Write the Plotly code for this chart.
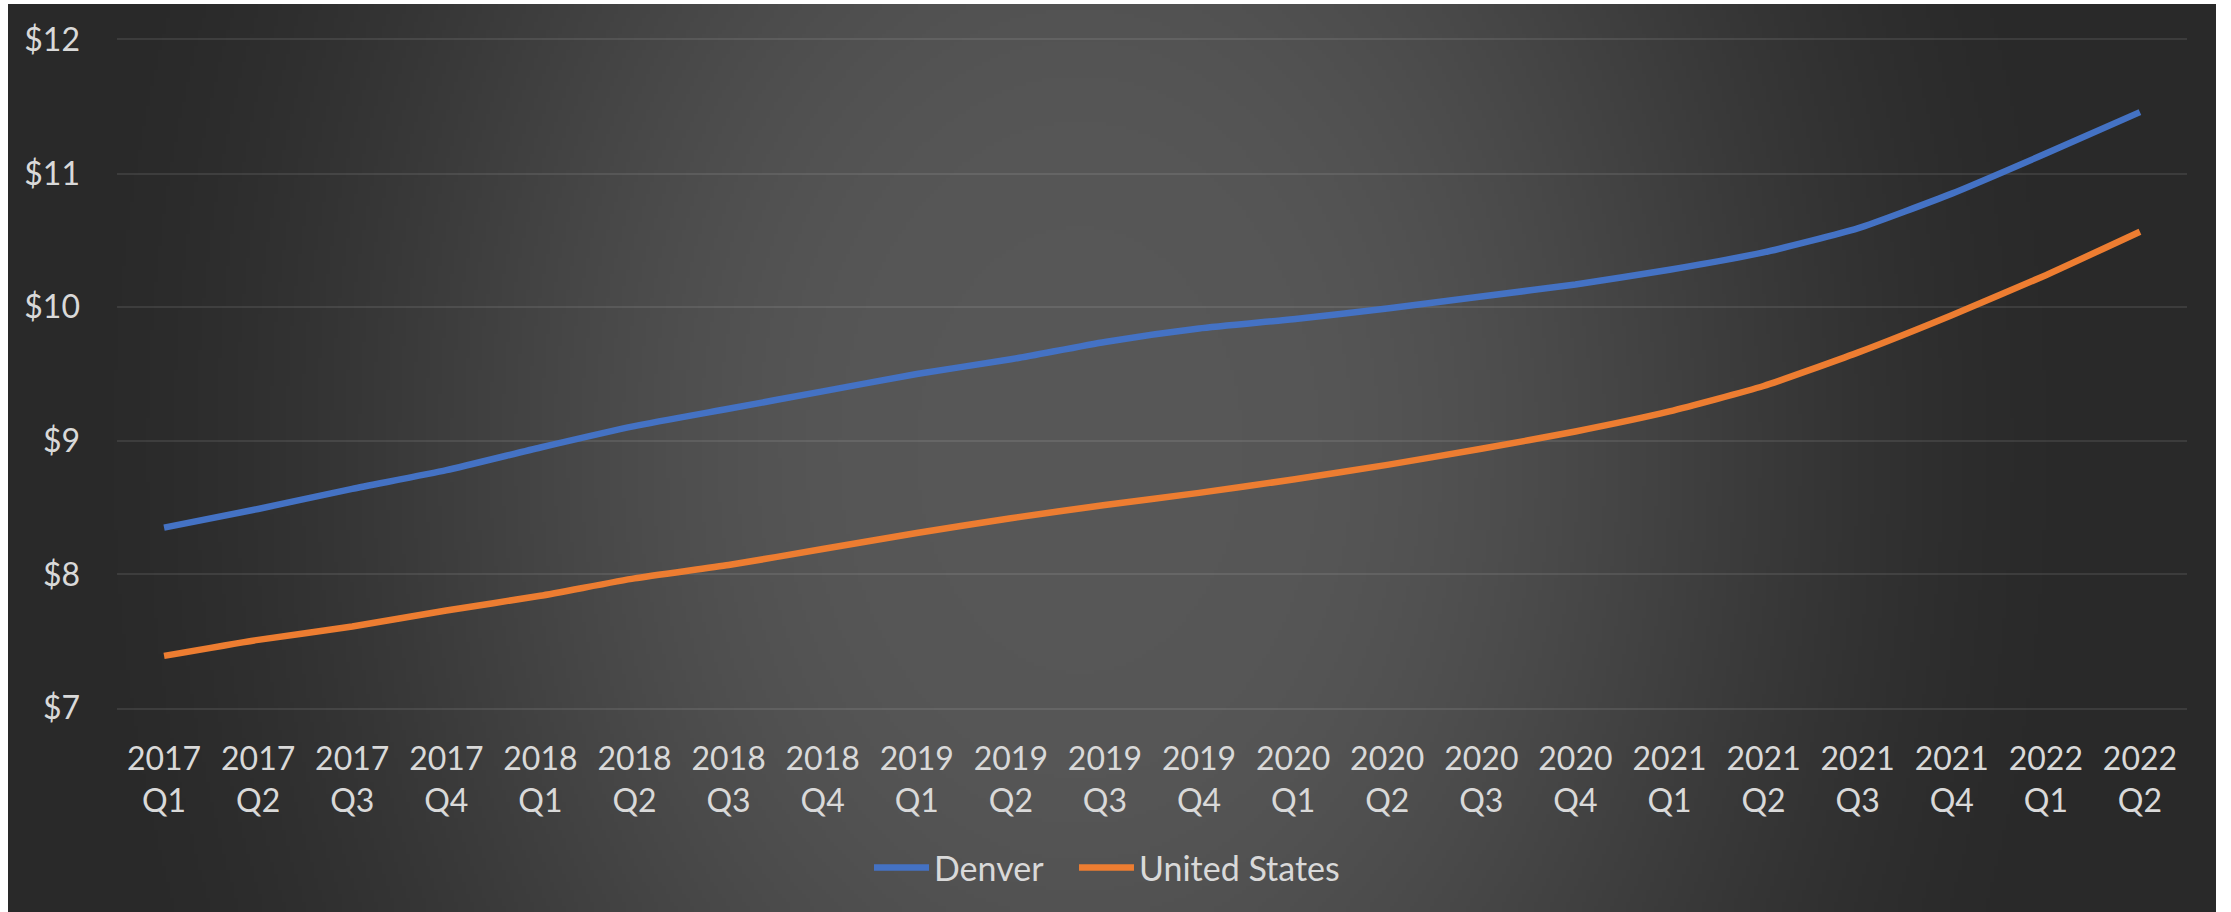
import base64, zlib, struct
import numpy as np
import plotly.graph_objects as go

# ---------------- data ----------------
quarters = ["2017<br>Q1", "2017<br>Q2", "2017<br>Q3", "2017<br>Q4",
            "2018<br>Q1", "2018<br>Q2", "2018<br>Q3", "2018<br>Q4",
            "2019<br>Q1", "2019<br>Q2", "2019<br>Q3", "2019<br>Q4",
            "2020<br>Q1", "2020<br>Q2", "2020<br>Q3", "2020<br>Q4",
            "2021<br>Q1", "2021<br>Q2", "2021<br>Q3", "2021<br>Q4",
            "2022<br>Q1", "2022<br>Q2"]
denver = [8.35, 8.49, 8.64, 8.78, 8.95, 9.11, 9.24, 9.37, 9.50, 9.61, 9.74,
          9.84, 9.91, 9.99, 10.08, 10.17, 10.28, 10.41, 10.59, 10.85, 11.15, 11.46]
united_states = [7.39, 7.51, 7.61, 7.73, 7.84, 7.97, 8.07, 8.19, 8.31, 8.42, 8.52,
                 8.61, 8.71, 8.82, 8.94, 9.07, 9.22, 9.41, 9.66, 9.94, 10.24, 10.565]
y_ticks = [7, 8, 9, 10, 11, 12]
y_tick_text = ["$" + str(v) for v in y_ticks]
series_names = ["Denver", "United States"]

# ---------------- geometry ----------------
FW, FH = 2231, 912
ML, MR, MT, MB = 117, 44, 40, 204
PW, PH = FW - ML - MR, FH - MT - MB
def px2paper_x(px): return (px - ML) / PW
def px2paper_y(py): return (FH - MB - py) / PH

# dark chart-area rectangle (thin white border around it)
BX0, BX1, BY0, BY1 = 8, 2216, 4, 912

# ---------------- radial background gradient (PNG data URI) ----------------
W, H = 552, 227
jj = (np.arange(W) + 0.5) * (BX1 - BX0) / W + BX0
ii = (np.arange(H) + 0.5) * (BY1 - BY0) / H + BY0
X, Y = np.meshgrid(jj, ii)
cx, cy, rx, ry = 1080.0, 450.0, 1100.0, 1500.0
d = np.sqrt(((X - cx) / rx) ** 2 + ((Y - cy) / ry) ** 2)
t = np.clip((d - 0.15) / 0.8, 0, 1)
s = 3 * t ** 2 - 2 * t ** 3
g = 1 - s
val = np.clip(41 + 46 * g, 0, 255).astype(np.uint8)
rgb = np.stack([val, val, val], axis=-1)

def make_png(a):
    h, w, _ = a.shape
    raw = b"".join(b"\x00" + a[r].tobytes() for r in range(h))
    def chunk(tag, data):
        return (struct.pack(">I", len(data)) + tag + data +
                struct.pack(">I", zlib.crc32(tag + data) & 0xFFFFFFFF))
    return (b"\x89PNG\r\n\x1a\n" +
            chunk(b"IHDR", struct.pack(">IIBBBBB", w, h, 8, 2, 0, 0, 0)) +
            chunk(b"IDAT", zlib.compress(raw, 9)) + chunk(b"IEND", b""))

bg_uri = "data:image/png;base64," + base64.b64encode(make_png(rgb)).decode()

FONT = "Lato, 'Open Sans', sans-serif"
TXT = "#d9d9d9"
GRID = "rgba(255,255,255,0.09)"
NBSP = "\u00a0"

fig = go.Figure()
fig.add_trace(go.Scatter(x=quarters, y=denver, name=series_names[0] + NBSP * 3, mode="lines",
                         line=dict(color="#4472C4", width=6.5, shape="spline", smoothing=0.5)))
fig.add_trace(go.Scatter(x=quarters, y=united_states, name=series_names[1], mode="lines",
                         line=dict(color="#ED7D31", width=6.5, shape="spline", smoothing=0.5)))

fig.update_layout(
    width=FW, height=FH,
    margin=dict(l=ML, r=MR, t=MT, b=MB, pad=0),
    paper_bgcolor="white",
    plot_bgcolor="rgba(0,0,0,0)",
    font=dict(family=FONT, size=30, color=TXT),
    images=[dict(source=bg_uri, xref="paper", yref="paper",
                 x=px2paper_x(BX0), y=px2paper_y(BY0),
                 sizex=px2paper_x(BX1) - px2paper_x(BX0),
                 sizey=px2paper_y(BY0) - px2paper_y(BY1),
                 xanchor="left", yanchor="top", sizing="stretch", layer="below")],
    xaxis=dict(type="category", range=[-0.5, len(quarters) - 0.5],
               showgrid=False, zeroline=False,
               showline=True, mirror=True, linecolor=GRID, linewidth=2,
               ticks="", ticklabelstandoff=22,
               tickfont=dict(family=FONT, size=32, color=TXT)),
    yaxis=dict(range=[7, 12], tickmode="array", tickvals=y_ticks, ticktext=y_tick_text,
               showgrid=True, gridcolor=GRID, gridwidth=2,
               showline=False, zeroline=False, ticks="", ticklabelstandoff=36,
               tickfont=dict(family=FONT, size=32, color=TXT)),
    legend=dict(orientation="h", x=px2paper_x(869), xanchor="left",
                y=px2paper_y(868), yanchor="middle",
                font=dict(family=FONT, size=34, color=TXT),
                bgcolor="rgba(0,0,0,0)", itemwidth=55, tracegroupgap=0),
    showlegend=True,
)

fig.write_html("out.html", config={"displayModeBar": False},
               post_script="document.body.style.margin='0';")
